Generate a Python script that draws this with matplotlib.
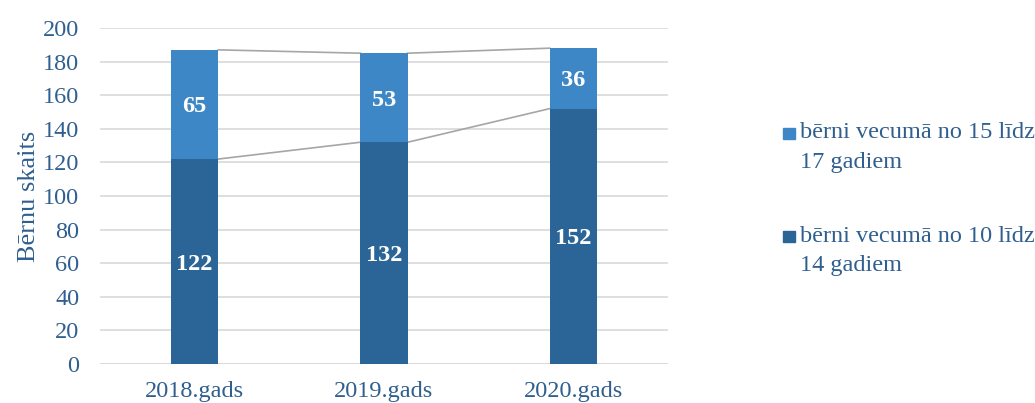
import numpy as np
import matplotlib.pyplot as plt

plt.rcParams['font.family'] = ['Liberation Serif', 'DejaVu Serif']

years = ['2018.gads', '2019.gads', '2020.gads']
age_10_14 = [122, 132, 152]
age_15_17 = [65, 53, 36]
labels = [['bērni vecumā no 15 līdz', '17 gadiem'],
          ['bērni vecumā no 10 līdz', '14 gadiem']]

c_light = '#3d87c6'
c_dark = '#2b6496'
c_text = '#2f5f8f'

fig = plt.figure(figsize=(10.35, 4.03), dpi=100)
ax = fig.add_axes([0.0966, 0.0968, 0.5488, 0.8337])

x = np.arange(len(years))
w = 0.25
low = np.array(age_10_14)
high = np.array(age_15_17)
ax.bar(x, low, w, color=c_dark, zorder=3)
ax.bar(x, high, w, bottom=low, color=c_light, zorder=3)

# series lines between bars
for i in range(len(x) - 1):
    for top in (low, low + high):
        ax.plot([x[i] + w / 2, x[i + 1] - w / 2], [top[i], top[i + 1]],
                color='#a6a6a6', lw=1.2, zorder=2)

for i in range(len(x)):
    ax.text(x[i], low[i] / 2, str(low[i]), ha='center', va='center_baseline',
            color='white', fontsize=17.5, fontweight='bold', zorder=4)
    ax.text(x[i], low[i] + high[i] / 2, str(high[i]), ha='center', va='center_baseline',
            color='white', fontsize=17.5, fontweight='bold', zorder=4)

ax.set_xlim(-0.5, 2.5)
ax.set_ylim(0, 200)
ax.set_yticks(range(0, 201, 20))
ax.set_xticks(x)
ax.set_xticklabels(years)
ax.tick_params(axis='y', length=0, labelsize=17.5, colors=c_text, pad=15)
ax.tick_params(axis='x', length=0, labelsize=17.5, colors=c_text, pad=12)
ax.yaxis.grid(True, color='#d9d9d9', lw=1.2, zorder=0)
for s in ax.spines.values():
    s.set_visible(False)
ax.axhline(0, color='#d9d9d9', lw=1.2, zorder=1)
ax.set_ylabel('Bērnu skaits', fontsize=19, color=c_text, labelpad=2)

# legend drawn by hand so the text runs off the right edge like the original
for yy, col, lab in [(0.670, c_light, labels[0]), (0.414, c_dark, labels[1])]:
    fig.patches.append(plt.Rectangle((0.7565, yy - 0.0137), 0.0116, 0.0273,
                                     transform=fig.transFigure, color=col))
    fig.text(0.773, yy, lab[0], fontsize=17.5, color=c_text, va='center', ha='left')
    fig.text(0.773, yy - 0.072, lab[1], fontsize=17.5, color=c_text, va='center', ha='left')

fig.savefig('out.png', dpi=100)
